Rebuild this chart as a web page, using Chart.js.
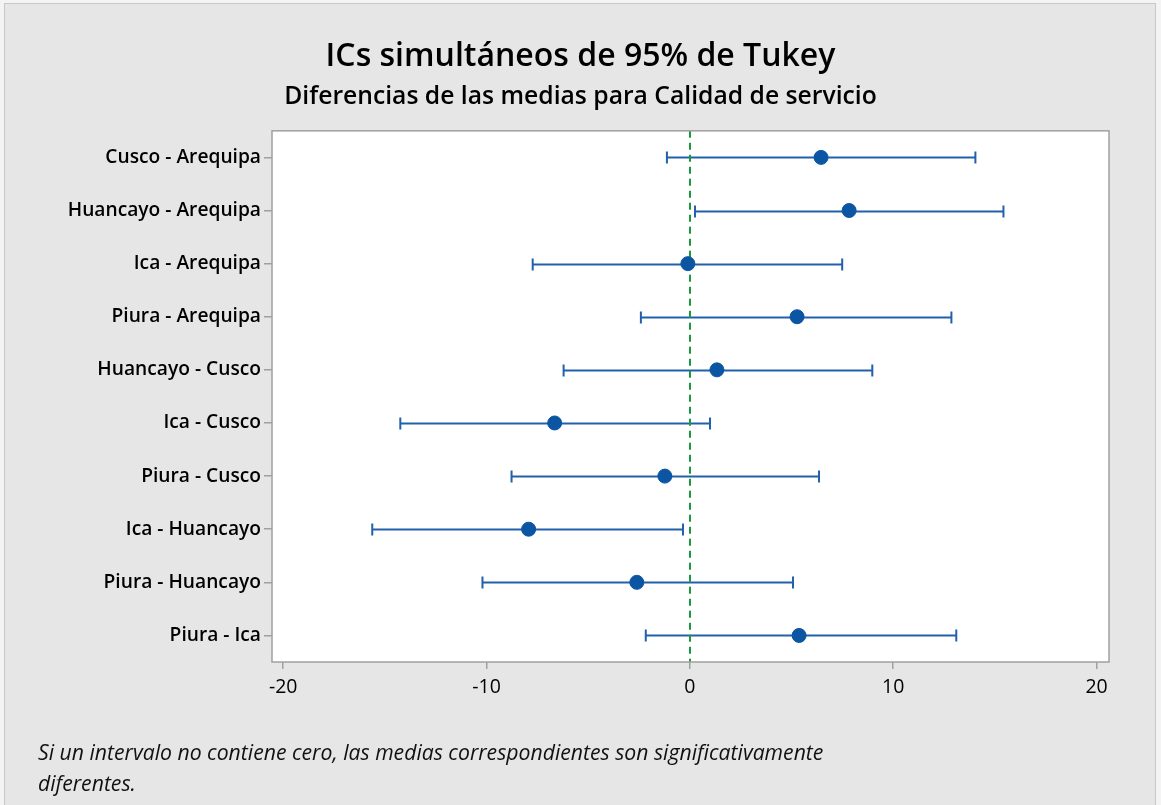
<!DOCTYPE html>
<html>
<head>
<meta charset="utf-8">
<script src="https://cdn.jsdelivr.net/npm/chart.js@4.4.0/dist/chart.umd.min.js"></script>
<style>
  html, body { margin: 0; padding: 0; background: #f4f4f4; }
  #frame { position: absolute; left: 4px; top: 3px; width: 1150px; height: 810px; background: #e6e6e6; border: 1px solid #c8c8c8; }
  #wrap { position: absolute; left: 0; top: 0; width: 1161px; height: 805px; }
  #note { position: absolute; left: 38px; top: 736px; font: italic 21.2px "Open Sans", sans-serif; line-height: 31px; color: #111; }
</style>
</head>
<body>
<div id="frame"></div>
<div id="wrap"><canvas id="tukeyChart" width="1161" height="805"></canvas></div>
<div id="note">Si un intervalo no contiene cero, las medias correspondientes son significativamente<br>diferentes.</div>
<script>
// Tukey comparisons
const comparisons = [
    "Cusco - Arequipa", "Huancayo - Arequipa", "Ica - Arequipa", "Piura - Arequipa",
    "Huancayo - Cusco", "Ica - Cusco", "Piura - Cusco", "Ica - Huancayo",
    "Piura - Huancayo", "Piura - Ica"
];
const means  = [6.45, 7.83, -0.10, 5.27, 1.33, -6.65, -1.23, -7.93, -2.61, 5.37];
const lowers = [-1.13, 0.25, -7.73, -2.41, -6.21, -14.24, -8.77, -15.62, -10.20, -2.17];
const uppers = [14.04, 15.42, 7.49, 12.86, 8.97, 0.99, 6.35, -0.34, 5.07, 13.10];
const xTicks = [-20, -10, 0, 10, 20];

const fontFam = "'Open Sans', 'Noto Sans', sans-serif";

// white plot area + frame, error bars and the zero reference line
const tukeyPlugin = {
    id: 'tukey',
    beforeDraw(chart) {
        const a = chart.chartArea, c = chart.ctx;
        c.save();
        c.fillStyle = '#ffffff';
        c.fillRect(a.left, a.top, a.right - a.left, a.bottom - a.top);
        c.restore();
    },
    beforeDatasetsDraw(chart) {
        const c = chart.ctx, x = chart.scales.x, y = chart.scales.y, a = chart.chartArea;
        c.save();
        c.strokeStyle = '#2260ac';
        c.lineWidth = 2;
        comparisons.forEach((lab, i) => {
            const py = Math.round(y.getPixelForValue(i)) + 0.5;
            const x1 = x.getPixelForValue(lowers[i]);
            const x2 = x.getPixelForValue(uppers[i]);
            c.beginPath();
            c.moveTo(x1, py); c.lineTo(x2, py);
            c.moveTo(x1, py - 6); c.lineTo(x1, py + 6);
            c.moveTo(x2, py - 6); c.lineTo(x2, py + 6);
            c.stroke();
        });
        // zero line
        const zx = Math.round(x.getPixelForValue(0));
        c.strokeStyle = '#1a9a3c';
        c.lineWidth = 2;
        c.setLineDash([7, 5]);
        c.beginPath();
        c.moveTo(zx, a.top); c.lineTo(zx, a.bottom);
        c.stroke();
        c.restore();
    },
    afterDraw(chart) {
        const a = chart.chartArea, c = chart.ctx;
        c.save();
        c.strokeStyle = '#a0a0a0';
        c.lineWidth = 1.5;
        c.strokeRect(a.left, a.top, a.right - a.left, a.bottom - a.top);
        c.restore();
    }
};

const ctx = document.getElementById("tukeyChart").getContext("2d");
new Chart(ctx, {
    type: 'scatter',
    data: {
        labels: comparisons,
        datasets: [{
            data: means.map((m, i) => ({ x: m, y: comparisons[i] })),
            backgroundColor: '#0b55a3',
            borderColor: '#0b55a3',
            pointRadius: 7,
            pointHoverRadius: 7,
            showLine: false
        }]
    },
    options: {
        responsive: false,
        animation: false,
        layout: { padding: { left: 52, right: 52, top: 0, bottom: 103 } },
        plugins: {
            legend: { display: false },
            tooltip: { enabled: false },
            title: {
                display: true,
                text: 'ICs simultáneos de 95% de Tukey',
                color: '#000',
                font: { family: fontFam, size: 32, weight: '600' },
                padding: { top: 38, bottom: 6 }
            },
            subtitle: {
                display: true,
                text: 'Diferencias de las medias para Calidad de servicio',
                color: '#000',
                font: { family: fontFam, size: 24.7, weight: '600' },
                padding: { top: 0, bottom: 18.8 }
            }
        },
        scales: {
            x: {
                type: 'linear',
                min: -20.55,
                max: 20.61,
                afterBuildTicks: s => { s.ticks = xTicks.map(v => ({ value: v })); },
                afterFit: s => { s.height = 40; },
                border: { display: false },
                grid: { drawOnChartArea: false, drawTicks: true, tickLength: 7, color: '#a0a0a0', lineWidth: 1.5 },
                ticks: { color: '#000', padding: 7, font: { family: fontFam, size: 19.5, weight: '500' } }
            },
            y: {
                type: 'category',
                labels: comparisons,
                offset: true,
                afterFit: s => { s.width = 220; },
                border: { display: false },
                grid: { drawOnChartArea: false, drawTicks: true, tickLength: 8, color: '#a0a0a0', lineWidth: 1.5, offset: false },
                ticks: { color: '#000', padding: 3, font: { family: fontFam, size: 19.2, weight: '600' } }
            }
        }
    },
    plugins: [tukeyPlugin]
});
</script>
</body>
</html>
